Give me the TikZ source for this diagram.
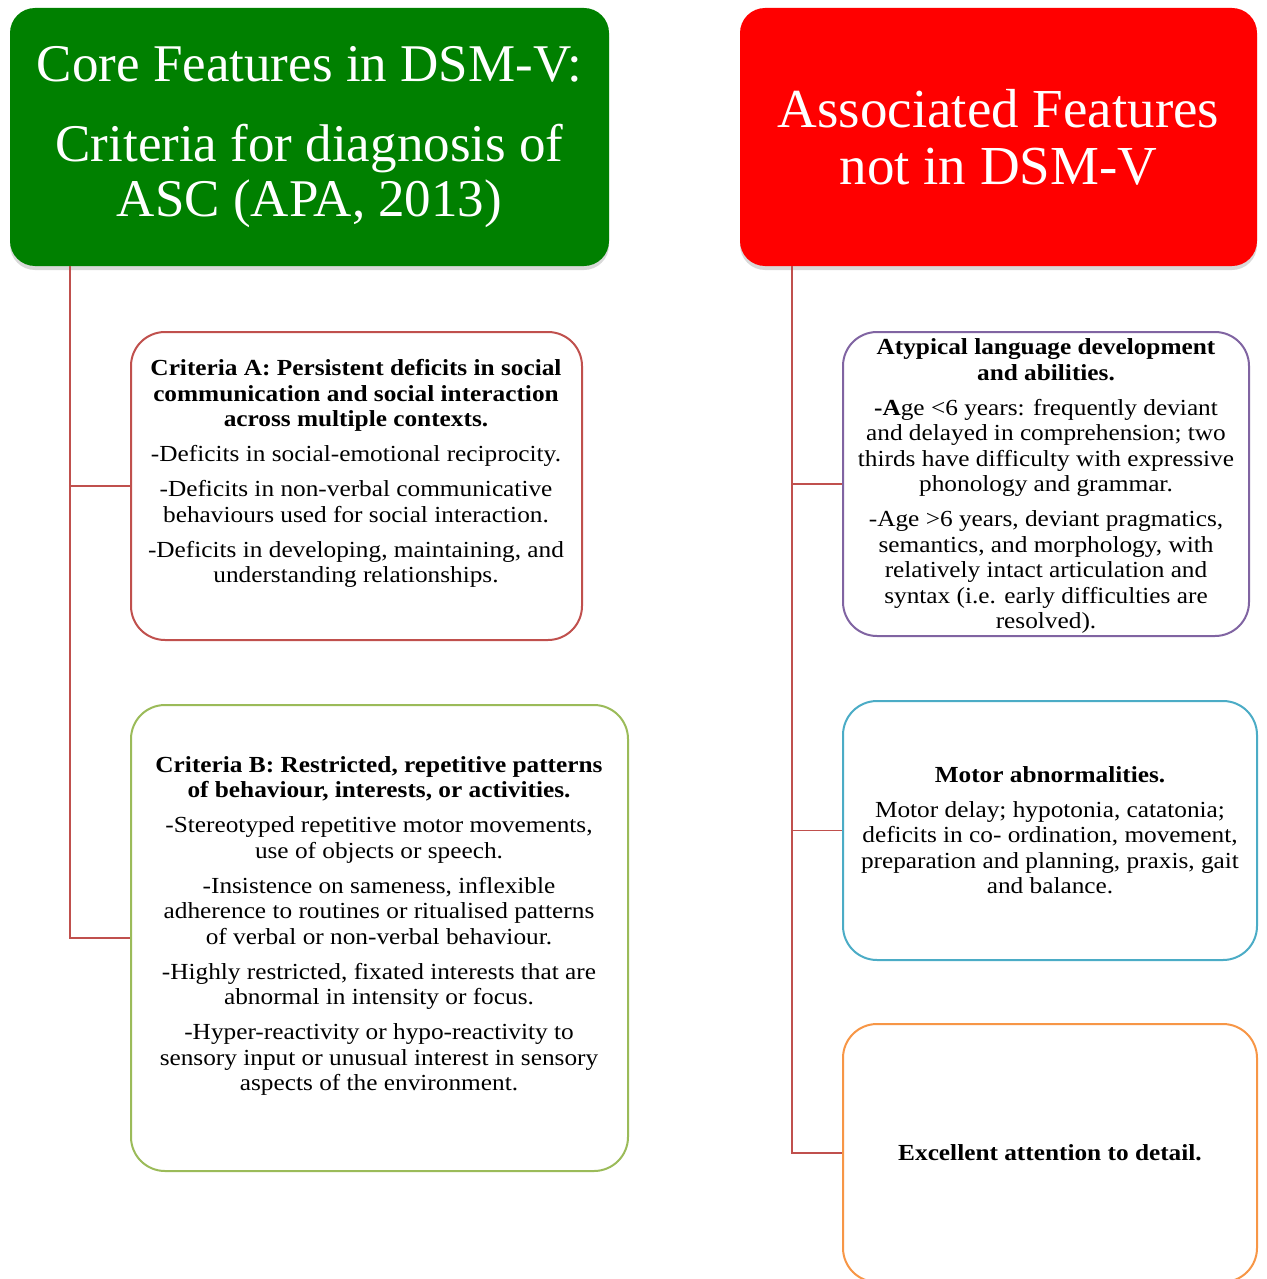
\documentclass[tikz,border=0pt]{standalone}
\usepackage{fontspec}
\setmainfont{Liberation Serif}
\newfontfamily\bodyfont[FakeStretch=1.1]{Liberation Serif}
\usetikzlibrary{shadows}

\definecolor{coregreen}{RGB}{0,128,0}
\definecolor{assocred}{RGB}{255,0,0}
\definecolor{linkred}{RGB}{192,80,77}
\definecolor{critAcol}{RGB}{192,80,77}
\definecolor{critBcol}{RGB}{155,187,89}
\definecolor{langcol}{RGB}{128,100,162}
\definecolor{motorcol}{RGB}{75,172,198}
\definecolor{detailcol}{RGB}{247,150,70}

\tikzset{
  head/.style={rounded corners=12.5pt, text=white, align=center, inner sep=0pt,
    font=\fontsize{26.5}{27.5}\selectfont,
    drop shadow={opacity=0.3, shadow xshift=0pt, shadow yshift=-2pt}},
  card/.style={draw, line width=1pt, rounded corners=17pt, fill=white, inner sep=0pt},
  body/.style={align=center, inner sep=0pt, font=\bodyfont\fontsize{11.5}{12.75}\selectfont},
  link/.style={draw=linkred, line width=0.8pt},
}

\begin{document}
\begin{tikzpicture}[x=0.5pt, y=-0.5pt]
  \useasboundingbox (0,0) rectangle (1267,1279);
  \clip (0,0) rectangle (1267,1279);

  % headers
  \node[head, fill=coregreen, minimum width=299.5pt, minimum height=129pt] (core) at (309.5,137)
    {Core Features in DSM-V:\\[12.5pt]Criteria for diagnosis of\\ASC (APA, 2013)};
  \node[head, fill=assocred, minimum width=258.5pt, minimum height=129pt,
    font=\fontsize{27.5}{28.5}\selectfont] (assoc) at (998.5,137)
    {Associated Features\\not in DSM-V};

  % boxes
  \node[card, draw=critAcol, minimum width=225.5pt, minimum height=154pt] (critA) at (356.5,486) {};
  \node[card, draw=critBcol, minimum width=248.5pt, minimum height=233pt] (critB) at (379.5,938) {};
  \node[card, draw=langcol, minimum width=203pt, minimum height=152pt] (lang) at (1046,484) {};
  \node[card, draw=motorcol, minimum width=207pt, minimum height=129.5pt] (motor) at (1050,830.5) {};
  \node[card, draw=detailcol, minimum width=207pt, minimum height=129pt] (detail) at (1050,1153) {};

  % texts
  \node[body] (critAtext) at (356,473.5) {\textbf{Criteria A: Persistent deficits in social}\\
    \textbf{communication and social interaction}\\
    \textbf{across multiple contexts.}\\[4.75pt]
    -Deficits in social-emotional reciprocity.\\[4.75pt]
    -Deficits in non-verbal communicative\\
    behaviours used for social interaction.\\[4.75pt]
    -Deficits in developing, maintaining, and\\
    understanding relationships.};
  \node[body] (critBtext) at (379,926) {\textbf{Criteria B: Restricted, repetitive patterns}\\
    \textbf{of behaviour, interests, or activities.}\\[4.75pt]
    -Stereotyped repetitive motor movements,\\
    use of objects or speech.\\[4.75pt]
    -Insistence on sameness, inflexible\\
    adherence to routines or ritualised patterns\\
    of verbal or non-verbal behaviour.\\[4.75pt]
    -Highly restricted, fixated interests that are\\
    abnormal in intensity or focus.\\[4.75pt]
    -Hyper-reactivity or hypo-reactivity to\\
    sensory input or unusual interest in sensory\\
    aspects of the environment.};
  \node[body] (langtext) at (1046,486) {\textbf{Atypical language development}\\
    \textbf{and abilities.}\\[4.75pt]
    \textbf{-A}ge <6 years: frequently deviant\\
    and delayed in comprehension; two\\
    thirds have difficulty with expressive\\
    phonology and grammar.\\[4.75pt]
    -Age >6 years, deviant pragmatics,\\
    semantics, and morphology, with\\
    relatively intact articulation and\\
    syntax (i.e. early difficulties are\\
    resolved).};
  \node[body] (motortext) at (1050,830) {\textbf{Motor abnormalities.}\\[4.75pt]
    Motor delay; hypotonia, catatonia;\\
    deficits in co- ordination, movement,\\
    preparation and planning, praxis, gait\\
    and balance.};
  \node[body] (detailtext) at (1050,1153) {\textbf{Excellent attention to detail.}};

  % connectors
  \coordinate (coretrunk) at (70,266);
  \coordinate (assoctrunk) at (792,266);
  \draw[link] (coretrunk) |- (critA.west);
  \draw[link] (coretrunk) |- (critB.west);
  \draw[link] (assoctrunk) |- (lang.west);
  \draw[link] (assoctrunk) |- (motor.west);
  \draw[link] (assoctrunk) |- (detail.west);
\end{tikzpicture}
\end{document}
